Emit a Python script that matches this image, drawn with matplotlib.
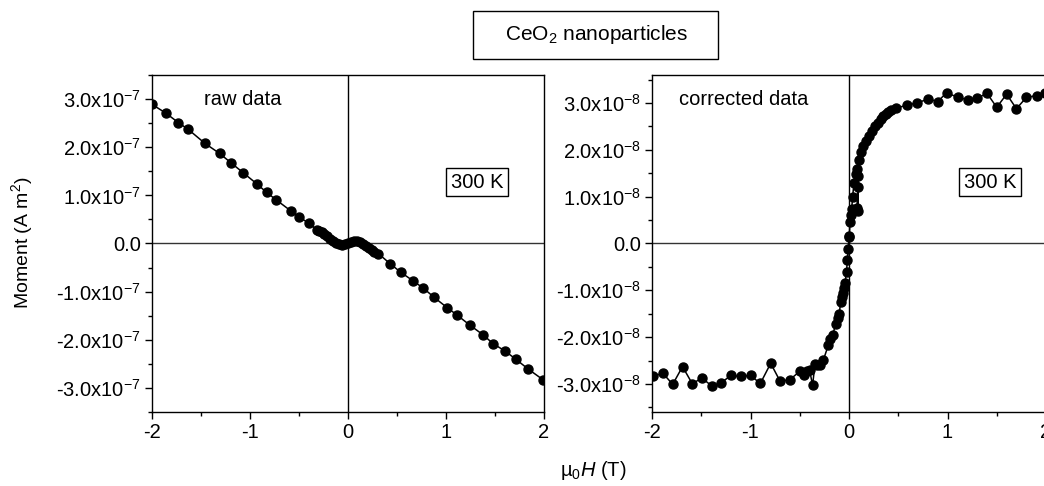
import matplotlib
matplotlib.use('Agg')
import matplotlib.pyplot as plt
from matplotlib.ticker import MultipleLocator, FuncFormatter
from matplotlib.patches import Rectangle

plt.rcParams['font.family'] = ['Liberation Sans', 'DejaVu Sans']
plt.rcParams['mathtext.fontset'] = 'custom'
plt.rcParams['mathtext.rm'] = 'Liberation Sans'
plt.rcParams['mathtext.it'] = 'Liberation Sans:italic'
plt.rcParams['font.size'] = 14.5

# raw data, field in T, moment in units of 1e-7 A m^2
H_raw = [-2.00, -1.86, -1.73, -1.63, -1.46, -1.31, -1.19, -1.07, -0.925, -0.83,
         -0.735, -0.585, -0.497, -0.40, -0.32,
         -0.30, -0.27, -0.24, -0.21, -0.18, -0.15, -0.12, -0.09, -0.06, -0.03,
         0.0, 0.03, 0.06, 0.09, 0.12, 0.15, 0.18, 0.21, 0.24, 0.27, 0.31,
         0.43, 0.54, 0.66, 0.77, 0.88, 1.01, 1.115, 1.24, 1.38, 1.48, 1.60,
         1.71, 1.84, 1.99]
M_raw = [2.89, 2.71, 2.51, 2.37, 2.08, 1.87, 1.67, 1.47, 1.23, 1.06,
         0.91, 0.68, 0.55, 0.42, 0.29,
         0.27, 0.23, 0.19, 0.15, 0.10, 0.06, 0.02, -0.02, -0.035, -0.02,
         0.0, 0.03, 0.05, 0.05, 0.03, -0.01, -0.05, -0.09, -0.13, -0.17, -0.21,
         -0.42, -0.60, -0.77, -0.93, -1.12, -1.33, -1.49, -1.69, -1.90, -2.08, -2.23,
         -2.40, -2.61, -2.83]

# corrected data, field in T, moment in units of 1e-8 A m^2
H_corr = [-1.99, -1.89, -1.79, -1.69, -1.59, -1.495, -1.39, -1.30, -1.20, -1.10,
          -1.00, -0.90, -0.795, -0.70, -0.60, -0.50, -0.46, -0.43, -0.40, -0.37,
          -0.345, -0.32, -0.29, -0.26, -0.21, -0.19, -0.165, -0.135, -0.115, -0.10,
          -0.085, -0.075, -0.065, -0.05, -0.04, -0.025, -0.017, -0.007, 0.0,
          0.003, 0.01, 0.02, 0.027, 0.037, 0.05, 0.07, 0.085, 0.09, 0.095,
          0.08, 0.09, 0.10, 0.12, 0.14, 0.17, 0.20, 0.23, 0.26, 0.29, 0.32,
          0.35, 0.38, 0.40, 0.43, 0.48, 0.59, 0.69, 0.805, 0.90, 0.99, 1.11,
          1.205, 1.30, 1.40, 1.50, 1.60, 1.70, 1.80, 1.905, 1.99]
M_corr = [-2.84, -2.77, -3.01, -2.63, -3.00, -2.87, -3.05, -2.98, -2.82, -2.84,
          -2.82, -2.99, -2.56, -2.94, -2.91, -2.73, -2.80, -2.73, -2.70, -3.03,
          -2.58, -2.59, -2.59, -2.49, -2.17, -2.05, -1.95, -1.72, -1.60, -1.51,
          -1.26, -1.15, -1.05, -0.95, -0.84, -0.60, -0.36, -0.11, 0.13,
          0.17, 0.45, 0.60, 0.73, 1.00, 1.29, 1.49, 1.60, 1.45, 0.69,
          0.75, 1.20, 1.78, 1.95, 2.08, 2.18, 2.30, 2.40, 2.50, 2.58, 2.66,
          2.72, 2.77, 2.82, 2.86, 2.89, 2.96, 3.00, 3.09, 3.03, 3.22, 3.12,
          3.07, 3.10, 3.21, 2.91, 3.19, 2.88, 3.12, 3.16, 3.21]

W, Hpx = 1044, 486
fig = plt.figure(figsize=(W / 100, Hpx / 100), dpi=100)
ax1 = fig.add_axes([152 / W, 74 / Hpx, 392 / W, 337 / Hpx])
ax2 = fig.add_axes([652 / W, 74 / Hpx, 394 / W, 337 / Hpx])


def fmt(exp):
    def f(v, pos):
        if abs(v) < 1e-9:
            return '0.0'
        return f'{v:.1f}x10$^{{{exp}}}$'
    return FuncFormatter(f)


for ax, H, M, lim, exp in [(ax1, H_raw, M_raw, 3.5, -7), (ax2, H_corr, M_corr, 3.6, -8)]:
    ax.axhline(0, color='#333333', lw=1.0, zorder=1)
    ax.axvline(0, color='black', lw=1.0, zorder=1)
    ax.plot(H, M, '-o', color='black', lw=1.1, ms=6.5, zorder=3)
    ax.set_xlim(-2, 2)
    ax.set_ylim(-lim, lim)
    ax.xaxis.set_major_locator(MultipleLocator(1))
    ax.xaxis.set_minor_locator(MultipleLocator(0.5))
    ax.yaxis.set_major_locator(MultipleLocator(1))
    ax.yaxis.set_minor_locator(MultipleLocator(0.5))
    ax.yaxis.set_major_formatter(fmt(exp))
    ax.xaxis.set_major_formatter(FuncFormatter(lambda v, p: f'{v:.0f}'))
    ax.tick_params(which='major', direction='out', length=5, width=1, labelsize=14.5, pad=3)
    ax.tick_params(which='minor', direction='out', length=3, width=1)
    for s in ax.spines.values():
        s.set_linewidth(1.0)

ax1.text(0.231, 0.926, 'raw data', transform=ax1.transAxes, ha='center', va='center', fontsize=14.5)
ax2.text(0.2335, 0.926, 'corrected data', transform=ax2.transAxes, ha='center', va='center', fontsize=14.5)

box = dict(boxstyle='square,pad=0.22', fc='white', ec='black', lw=1.0)
ax1.text(0.829, 0.682, '300 K', transform=ax1.transAxes, ha='center', va='center', fontsize=14.5, bbox=box)
ax2.text(0.858, 0.682, '300 K', transform=ax2.transAxes, ha='center', va='center', fontsize=14.5, bbox=box)

fig.patches.append(Rectangle((473 / W, 1 - 59 / Hpx), 245 / W, 48 / Hpx, transform=fig.transFigure,
                             fill=False, ec='black', lw=1.0))
fig.text(596 / W, 1 - 34 / Hpx, 'CeO$_2$ nanoparticles', ha='center', va='center', fontsize=15)

fig.text(22 / W, 1 - 243 / Hpx, 'Moment (A m$^2$)', rotation=90, ha='center', va='center', fontsize=14)
fig.text(593 / W, 1 - 470 / Hpx, '\u00b5$_0$$\\mathit{H}$ (T)', ha='center', va='center', fontsize=14.5)

fig.savefig('out.png', dpi=100)
